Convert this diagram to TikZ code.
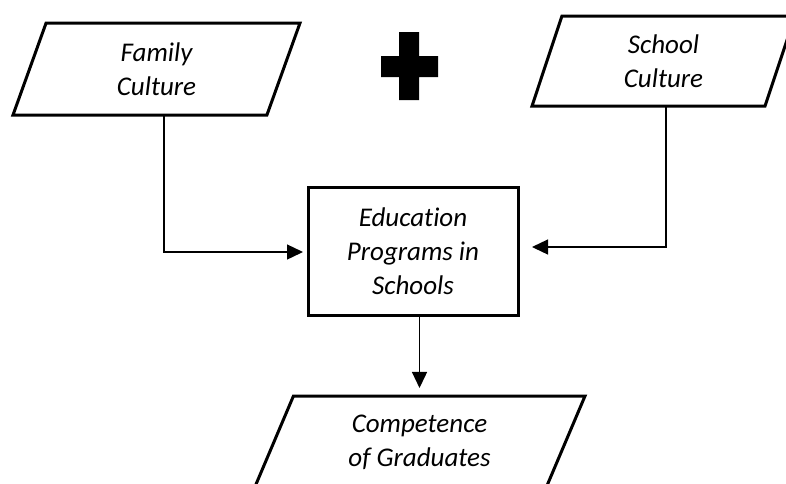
\documentclass[tikz,border=0pt]{standalone}
\usepackage{fontspec}
\setmainfont{Carlito}[Ligatures=NoCommon]
\usetikzlibrary{arrows.meta,shapes.geometric}

\tikzset{
  para/.style={draw,line width=1.5pt,trapezium,trapezium stretches body,
    inner sep=0pt,outer sep=0pt,align=center,font=\fontsize{13.5}{17}\selectfont\itshape},
  progbox/.style={draw,line width=1.5pt,rectangle,inner sep=0pt,outer sep=0pt,
    minimum width=105pt,minimum height=64pt,align=center,font=\fontsize{13.5}{17}\selectfont\itshape},
  conn/.style={line width=0.65pt,-{Triangle[length=8pt,width=7.5pt]}}
}

\begin{document}
\begin{tikzpicture}[line join=miter,x=0.5pt,y=-0.5pt]
\useasboundingbox (0,0) rectangle (786,483);
\clip (0,0) rectangle (786,483);
% inputs
\node[para,trapezium left angle=58,trapezium right angle=122,
  minimum width=143.5pt,minimum height=46pt] (fam) at (156.5,69) {Family\\Culture};
\node[para,trapezium left angle=60.5,trapezium right angle=119.5,
  minimum width=131.5pt,minimum height=45pt] (sch) at (663.5,61) {School\\Culture};
% plus sign
\fill (399,32) -- (419,32) -- (419,56) -- (438,56) -- (438,77) -- (419,77)
  -- (419,100) -- (399,100) -- (399,77) -- (381,77) -- (381,56) -- (399,56) -- cycle;
% process
\node[progbox] (prog) at (413,251) {Education\\Programs in\\Schools};
% output
\node[para,trapezium left angle=54.2,trapezium right angle=125.8,
  minimum width=165.5pt,minimum height=46.5pt] (comp) at (419.5,442.5) {Competence\\of Graduates};
% connectors
\draw[conn] ([xshift=3.75pt]fam.south) |- ([xshift=-2.5pt,yshift=-0.5pt]prog.west);
\draw[conn] ([xshift=1.25pt]sch.south) |- ([xshift=7pt,yshift=2pt]prog.east);
\draw[conn] (prog.south -| comp.north) -- ([yshift=4pt]comp.north);
\end{tikzpicture}
\end{document}
